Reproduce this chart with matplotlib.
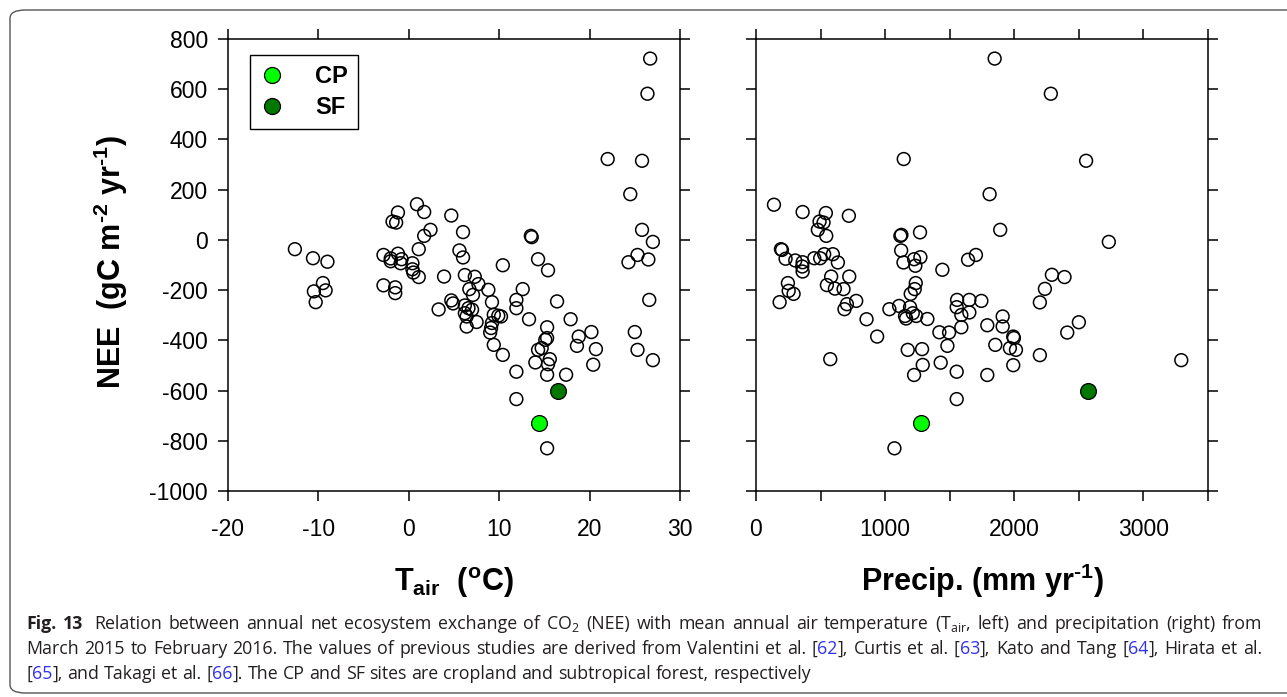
import matplotlib
matplotlib.use("Agg")
import matplotlib.pyplot as plt
from matplotlib.lines import Line2D
from matplotlib.patches import FancyBboxPatch

plt.rcParams['font.family'] = ['Liberation Sans', 'DejaVu Sans']
plt.rcParams['mathtext.default'] = 'regular'
plt.rcParams['mathtext.fontset'] = 'custom'
plt.rcParams['mathtext.rm'] = 'Liberation Sans:bold'
plt.rcParams['axes.unicode_minus'] = False

# previous studies (air temperature vs NEE)
tair = [26.7, 26.4, 22.0, 25.8, 24.5, 0.9, 1.7, -1.2, 4.7, -1.8,
        -1.4, 2.4, 1.7, 6.0, 25.8, 13.5, 13.6, 27.0, -12.6, 1.1,
        5.6, -10.6, -9.0, -2.8, -1.2, -2.0, -0.8, -2.0, -0.9, 0.4,
        6.0, 14.3, 15.4, 10.4, 25.3, 24.3, 26.5, 0.4, 0.5, 1.1,
        3.9, 6.2, 7.3, 7.7, -9.5, -10.5, -9.2, -10.3, -2.8, -1.5,
        -1.5, 6.7, 7.1, 8.8, 12.6, 9.2, 11.9, 11.9, 16.4, 26.6,
        3.3, 4.7, 4.9, 6.2, 6.6, 7.0, 6.2, 6.4, 7.5, 6.4,
        9.4, 9.9, 10.2, 9.2, 9.1, 9.0, 13.3, 17.9, 15.3, 15.3,
        15.1, 18.8, 20.2, 25.0, 9.4, 18.6, 20.7, 14.3, 14.7, 10.4,
        14.0, 15.6, 15.4, 20.4, 25.3, 27.0, 11.9, 15.3, 17.4, 11.9,
        15.3]
nee_tair = [722, 582, 322, 315, 182, 142, 111, 109, 97, 73,
            69, 40, 16, 31, 40, 16, 11, -8, -37, -37,
            -42, -73, -87, -60, -55, -74, -77, -85, -93, -93,
            -70, -77, -121, -101, -60, -89, -78, -117, -130, -148,
            -146, -140, -147, -176, -172, -205, -201, -248, -181, -189,
            -212, -196, -219, -199, -196, -248, -239, -272, -245, -239,
            -277, -241, -253, -261, -272, -278, -292, -305, -327, -345,
            -298, -302, -305, -331, -351, -369, -316, -316, -348, -391,
            -398, -385, -367, -367, -418, -422, -435, -438, -431, -458,
            -488, -475, -495, -497, -438, -479, -525, -537, -537, -634,
            -830]

# previous studies (precipitation vs NEE)
precip = [1848, 2283, 1144, 2556, 1809, 139, 361, 541, 719, 492,
          523, 544, 479, 1270, 1891, 1118, 1126, 2732, 193, 201,
          1124, 229, 304, 361, 358, 361, 451, 497, 528, 595,
          634, 1142, 1224, 1273, 1234, 1443, 1642, 1703, 582, 722,
          549, 611, 678, 247, 253, 291, 183, 704, 685, 776,
          856, 938, 1033, 1108, 1193, 1154, 1162, 1214, 1240, 1198,
          1229, 1237, 1327, 1175, 1286, 1291, 1224, 1420, 1495, 1482,
          1430, 1557, 1554, 1590, 1590, 1652, 1652, 1745, 1554, 1554,
          1791, 1853, 1791, 1910, 1910, 1992, 1997, 1966, 2013, 1992,
          2198, 2237, 2291, 2389, 2198, 2410, 2500, 3293, 575, 1072]
nee_precip = [722, 582, 322, 315, 182, 140, 111, 107, 96, 73,
              69, 16, 40, 30, 40, 16, 20, -8, -37, -40,
              -42, -75, -82, -89, -106, -126, -73, -73, -57, -57,
              -90, -90, -77, -69, -103, -119, -79, -60, -146, -146,
              -180, -194, -196, -172, -203, -215, -248, -256, -276, -243,
              -316, -385, -276, -263, -268, -303, -313, -292, -303, -215,
              -196, -172, -315, -438, -435, -498, -538, -368, -369, -422,
              -489, -239, -268, -299, -348, -239, -289, -243, -525, -634,
              -340, -418, -538, -305, -345, -385, -391, -431, -438, -499,
              -249, -195, -139, -148, -459, -369, -328, -479, -475, -830]

# this study
sites = ['CP', 'SF']
site_tair = [14.4, 16.5]
site_precip = [1276, 2567]
site_nee = [-731, -601]
site_colors = ['#00ff00', '#007800']

W, H = 1287, 697
fig = plt.figure(figsize=(W / 100, H / 100), dpi=100)

frame = FancyBboxPatch((10 / W, 4 / H), 1.2, 1 - 14 / H,
                       boxstyle="round,pad=0,rounding_size=0.012",
                       transform=fig.transFigure, facecolor='none',
                       edgecolor='#555555', linewidth=1.0)
fig.patches.append(frame)

ax1 = fig.add_axes([228 / W, 1 - 491 / H, 452 / W, 452 / H])
ax2 = fig.add_axes([756 / W, 1 - 491 / H, 452 / W, 452 / H])

for ax, xs, ys, sx in [(ax1, tair, nee_tair, site_tair),
                       (ax2, precip, nee_precip, site_precip)]:
    ax.scatter(xs, ys, s=85, facecolors='none', edgecolors='black',
               linewidths=1.1, zorder=3)
    for i in range(len(sites)):
        ax.scatter(sx[i], site_nee[i], s=130, color=site_colors[i],
                   edgecolors='black', linewidths=0.9, zorder=4)
    ax.set_ylim(-1000, 800)
    ax.set_yticks(range(-1000, 801, 200))
    ax.tick_params(direction='out', length=7.5, width=1.1, top=True,
                   right=True, labelsize=16.5)
    ax.tick_params(axis='y', pad=7)
    ax.tick_params(axis='x', pad=12)
    for sp in ax.spines.values():
        sp.set_linewidth(1.1)

ax1.set_xlim(-20, 30)
ax1.set_xticks(range(-20, 31, 10))
ax2.set_xlim(0, 3500)
ax2.set_xticks(range(0, 3501, 500))
ax2.set_xticklabels([str(v) if v % 1000 == 0 else '' for v in range(0, 3501, 500)])
ax2.set_yticklabels([])

fig.text(121 / W, 1 - 262 / H, r'NEE  (gC m$^{\text{-2}}$ yr$^{\text{-1}}$)',
         rotation=90, rotation_mode='anchor', ha='center', va='baseline',
         fontsize=22, fontweight='bold')
fig.text(454 / W, 1 - 591 / H, r'T$_{air}$  ($^{o}$C)', ha='center',
         va='baseline', fontsize=22, fontweight='bold')
fig.text(982 / W, 1 - 591 / H, r'Precip. (mm yr$^{\text{-1}}$)', ha='center',
         va='baseline', fontsize=22, fontweight='bold')

handles = [Line2D([], [], ls='none', marker='o', markersize=11.5,
                  markerfacecolor=c, markeredgecolor='black',
                  markeredgewidth=0.9) for c in site_colors]
leg = ax1.legend(handles, sites, loc='upper left',
                 bbox_to_anchor=(22 / 452, 1 - 16 / 452), borderaxespad=0,
                 fancybox=False, edgecolor='black', framealpha=1,
                 prop={'weight': 'bold', 'size': 17}, handletextpad=1.35,
                 borderpad=0.42, labelspacing=0.35, handlelength=1.0)
leg.get_frame().set_linewidth(1.0)

# caption: justified lines, words placed one by one so refs can be blue
fig.canvas.draw()
renderer = fig.canvas.get_renderer()
txt_col = '#231f20'
ref_col = '#3030f0'
cap_size = 12.8
cap_left, cap_right = 26, 1262


def cap_text(s, color, weight):
    return fig.text(0, 0, s, color=color, fontweight=weight, fontsize=cap_size,
                    family=['Open Sans', 'DejaVu Sans'], va='baseline')


probe = cap_text('a a', txt_col, 'normal')
space_w = probe.get_window_extent(renderer).width
probe.set_text('aa')
space_w -= probe.get_window_extent(renderer).width
probe.remove()


def caption_line(y_px, segments, justify=True, lead_extra=0):
    words = [[]]
    for text, color, weight in segments:
        for k, part in enumerate(text.split(' ')):
            if k > 0:
                words.append([])
            if part:
                words[-1].append((part, color, weight))
    words = [w for w in words if w]
    placed = []
    total = 0
    for w in words:
        frags = []
        for part, color, weight in w:
            t = cap_text(part, color, weight)
            wd = t.get_window_extent(renderer).width
            frags.append((t, wd))
            total += wd
        placed.append(frags)
    gap = space_w
    if justify and len(placed) > 1:
        gap = (cap_right - cap_left - total - lead_extra) / (len(placed) - 1)
    x = cap_left
    for n, frags in enumerate(placed):
        for t, wd in frags:
            t.set_position((x / W, 1 - y_px / H))
            x += wd
        x += gap
        if n == 1:
            x += lead_extra


caption_line(629, [
    ('Fig. 13', txt_col, 'bold'),
    (' Relation between annual net ecosystem exchange of CO$_2$ (NEE) with mean '
     'annual air temperature (T$_{air}$, left) and precipitation (right) from',
     txt_col, 'normal')], lead_extra=5)
caption_line(654, [
    ('March 2015 to February 2016. The values of previous studies are derived '
     'from Valentini et al. [', txt_col, 'normal'),
    ('62', ref_col, 'normal'),
    ('], Curtis et al. [', txt_col, 'normal'),
    ('63', ref_col, 'normal'),
    ('], Kato and Tang [', txt_col, 'normal'),
    ('64', ref_col, 'normal'),
    ('], Hirata et al.', txt_col, 'normal')])
caption_line(679, [
    ('[', txt_col, 'normal'),
    ('65', ref_col, 'normal'),
    ('], and Takagi et al. [', txt_col, 'normal'),
    ('66', ref_col, 'normal'),
    ('].', txt_col, 'normal'),
    (' The CP and SF sites are cropland and subtropical forest, respectively',
     txt_col, 'normal')], justify=False)

fig.savefig('out.png', dpi=100)
